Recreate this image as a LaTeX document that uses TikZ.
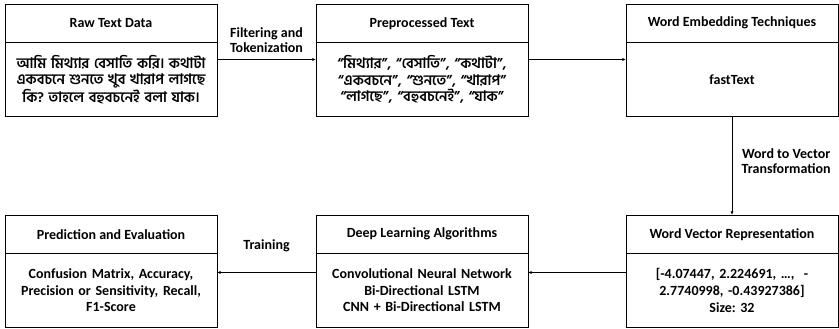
\documentclass[tikz,border=0pt]{standalone}
\usepackage{fontspec}
\setmainfont{Carlito}
\newfontfamily\bnfont[Script=Bengali]{Hind Siliguri}
\usetikzlibrary{arrows.meta,positioning}
\frenchspacing

\begin{document}
\begin{tikzpicture}[
  x=1pt, y=1pt,
  node distance=0pt,
  head/.style={draw, line width=0.9pt, minimum width=212pt, minimum height=38.5pt,
               inner sep=0pt, outer sep=0pt, font=\fontsize{14}{16}\selectfont\bfseries},
  body/.style={draw, line width=0.9pt, minimum width=212pt, minimum height=74pt,
               inner sep=0pt, outer sep=0pt, align=center, text width=208pt,
               font=\fontsize{14}{16.6}\selectfont\bfseries},
  arr/.style={-{Latex[length=1.3mm,width=1.1mm]}, line width=0.8pt},
  lbl/.style={align=center, font=\fontsize{14}{15}\selectfont\bfseries}
]
\useasboundingbox (0,0) rectangle (839,329);

% top row
\node[head, anchor=north west] (rawh) at (5,325) {Raw Text Data};
\node[body, below=of rawh] (raw) {\bnfont\fontsize{14.5}{16.4}\selectfont আমি মিথ্যার বেসাতি করি। কথাটা\\একবচনে শুনতে খুব খারাপ লাগছে\\কি? তাহলে বহুবচনেই বলা যাক।};
\node[head, anchor=north west] (preh) at (316,325) {Preprocessed Text};
\node[body, below=of preh] (pre) {\bnfont\fontsize{14.5}{16.4}\selectfont “মিথ্যার”, “বেসাতি”, “কথাটা”,\\“একবচনে”, “শুনতে”, “খারাপ”\\“লাগছে”, “বহুবচনেই”, “যাক”};
\node[head, anchor=north west] (embh) at (626,325) {Word Embedding Techniques};
\node[body, below=of embh] (emb) {fastText};

% bottom row
\node[head, anchor=north west] (evalh) at (5,114) {Prediction and Evaluation};
\node[body, below=of evalh] (eval) {Confusion Matrix, Accuracy,\\Precision or Sensitivity, Recall,\\F1-Score};
\node[head, anchor=north west] (dlh) at (316,114) {Deep Learning Algorithms};
\node[body, below=of dlh] (dl) {Convolutional Neural Network\\Bi-Directional LSTM\\CNN + Bi-Directional LSTM};
\node[head, anchor=north west] (vech) at (626,114) {Word Vector Representation};
\node[body, below=of vech] (vec) {[-4.07447, 2.224691, \dots, \ -\\2.7740998, -0.43927386]\\Size: 32};

% connectors
\draw[arr] ([yshift=-17pt]raw.north east) -- node[lbl, above=3pt] {Filtering and\\Tokenization} ([yshift=-17pt]pre.north west);
\draw[arr] ([yshift=-17pt]pre.north east) -- ([yshift=-17pt]emb.north west);
\draw[arr] (emb.south) -- node[lbl, right=6pt, yshift=5pt] {Word to Vector\\Transformation} (vech.north);
\draw[arr] ([yshift=-19pt]vec.north west) -- ([yshift=-19pt]dl.north east);
\draw[arr] ([yshift=-19pt]dl.north west) -- node[lbl, above=17pt] {Training} ([yshift=-19pt]eval.north east);
\end{tikzpicture}
\end{document}
